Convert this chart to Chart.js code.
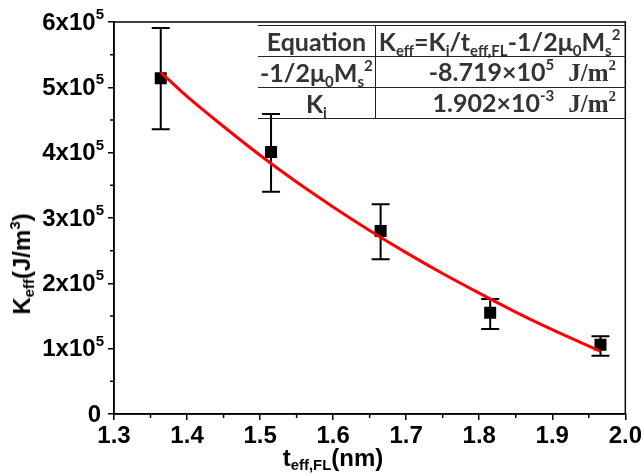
<!DOCTYPE html>
<html>
<head>
<meta charset="utf-8">
<script src="https://cdn.jsdelivr.net/npm/chart.js@4"></script>
<style>
  html, body { margin: 0; padding: 0; background: #fff; }
  #wrap { position: relative; width: 644px; height: 476px; }
  canvas { position: absolute; left: 0; top: 0; }
  .axt { position: absolute; font-family: "Liberation Sans", Arial, sans-serif; font-weight: bold;
         font-size: 24px; color: #000; white-space: nowrap; line-height: 1; }
  .axt sub { font-size: 62%; vertical-align: -0.3em; line-height: 0; }
  .axt sup { font-size: 62%; vertical-align: 0.7em; line-height: 0; }
  #ytitle { left: 22px; top: 264px; transform: translate(-50%, -50%) rotate(-90deg); }
  #xtitle { left: 333px; top: 458px; transform: translate(-50%, -50%); }
  #tbl { position: absolute; left: 258px; top: 25px; width: 368px; border-collapse: collapse;
         font-family: Lato, "Open Sans", sans-serif; font-weight: bold; font-size: 25px; color: #333; }
  #tbl td { border-top: 1.5px solid #222; border-bottom: 1.5px solid #222; padding: 0 2px; height: 30px;
            line-height: 1; white-space: nowrap; }
  #tbl td.c1 { width: 111px; border-right: 1.5px solid #222; text-align: center; }
  #tbl td.c2 { text-align: right; padding-right: 10px; }
  #tbl td.h2 { text-align: left; padding-left: 3px; }
  #tbl sub { font-size: 60%; vertical-align: -0.3em; line-height: 0; }
  #tbl sup { font-size: 60%; vertical-align: 0.75em; line-height: 0; }
  .ser { font-family: "Liberation Serif", "Times New Roman", serif; margin-left: 14px; }
</style>
</head>
<body>
<div id="wrap">
  <canvas id="chart" width="644" height="476"></canvas>
  <div class="axt" id="ytitle">K<sub>eff</sub>(J/m<sup>3</sup>)</div>
  <div class="axt" id="xtitle">t<sub>eff,FL</sub>(nm)</div>
  <table id="tbl">
    <tr><td class="c1">Equation</td><td class="h2">K<sub>eff</sub>=K<sub>i</sub>/t<sub>eff,FL</sub>-1/2&mu;<sub>0</sub>M<sub>s</sub><sup>2</sup></td></tr>
    <tr><td class="c1">-1/2&mu;<sub>0</sub>M<sub>s</sub><sup>2</sup></td><td class="c2">-8.719&times;10<sup>5</sup><span class="ser">J/m<sup>2</sup></span></td></tr>
    <tr><td class="c1">K<sub>i</sub></td><td class="c2">1.902&times;10<sup>-3</sup><span class="ser">J/m<sup>2</sup></span></td></tr>
  </table>
</div>
<script>
// measured points (t_eff,FL in nm, K_eff in J/m^3)
const thickness = [1.364, 1.515, 1.665, 1.815, 1.966];
const keff = [5.14e5, 4.01e5, 2.80e5, 1.55e5, 1.06e5];
const errHigh = [5.91e5, 4.59e5, 3.21e5, 1.76e5, 1.19e5];
const errLow = [4.36e5, 3.40e5, 2.37e5, 1.30e5, 0.89e5];

// red fit curve
const fitT = [1.364, 1.40, 1.45, 1.50, 1.55, 1.60, 1.65, 1.70, 1.75, 1.80, 1.85, 1.90, 1.966];
const fitK = [5.23e5, 4.86e5, 4.40e5, 3.96e5, 3.55e5, 3.17e5, 2.81e5, 2.47e5, 2.15e5, 1.85e5, 1.56e5, 1.29e5, 0.96e5];

const xMinor = [1.35, 1.45, 1.55, 1.65, 1.75, 1.85, 1.95];
const yMinor = [0.5e5, 1.5e5, 2.5e5, 3.5e5, 4.5e5, 5.5e5];

const fontFam = "'Liberation Sans', Arial, sans-serif";
const tickFont = { family: fontFam, weight: "bold", size: 24 };

const errorBars = {
  id: "errorBars",
  beforeDatasetsDraw(chart) {
    const { ctx, scales: { x, y } } = chart;
    ctx.save();
    ctx.strokeStyle = "#000";
    ctx.lineWidth = 2;
    thickness.forEach((t, i) => {
      const px = x.getPixelForValue(t);
      const top = y.getPixelForValue(errHigh[i]);
      const bot = y.getPixelForValue(errLow[i]);
      ctx.beginPath();
      ctx.moveTo(px, top); ctx.lineTo(px, bot);
      ctx.moveTo(px - 9, top); ctx.lineTo(px + 9, top);
      ctx.moveTo(px - 9, bot); ctx.lineTo(px + 9, bot);
      ctx.stroke();
    });
    ctx.restore();
  }
};

// y tick labels as "Nx10^5" with a real superscript
const yLabels = {
  id: "yLabels",
  afterDraw(chart) {
    const { ctx, chartArea: a, scales: { y } } = chart;
    ctx.save();
    ctx.fillStyle = "#000";
    y.ticks.forEach(t => {
      const py = y.getPixelForValue(t.value);
      const right = a.left - 10;
      if (t.value === 0) {
        ctx.font = "bold 24px " + fontFam;
        ctx.textAlign = "right";
        ctx.textBaseline = "middle";
        ctx.fillText("0", right - 3, py + 1);
        return;
      }
      ctx.font = "bold 15px " + fontFam;
      const supW = ctx.measureText("5").width;
      ctx.textAlign = "right";
      ctx.textBaseline = "alphabetic";
      ctx.fillText("5", right, py - 3);
      ctx.font = "bold 24px " + fontFam;
      ctx.textBaseline = "middle";
      ctx.fillText(Math.round(t.value / 1e5) + "x10", right - supW, py + 1);
    });
    ctx.restore();
  }
};

const frame = {
  id: "frame",
  afterDraw(chart) {
    const { ctx, chartArea: a, scales: { x, y } } = chart;
    ctx.save();
    ctx.strokeStyle = "#000";
    ctx.lineWidth = 1.5;
    ctx.strokeRect(a.left, a.top, a.right - a.left, a.bottom - a.top);
    // minor ticks
    ctx.beginPath();
    xMinor.forEach(v => {
      const px = x.getPixelForValue(v);
      ctx.moveTo(px, a.bottom); ctx.lineTo(px, a.bottom + 4);
    });
    yMinor.forEach(v => {
      const py = y.getPixelForValue(v);
      ctx.moveTo(a.left, py); ctx.lineTo(a.left - 4, py);
    });
    ctx.stroke();
    ctx.restore();
  }
};

new Chart(document.getElementById("chart"), {
  type: "scatter",
  data: {
    datasets: [
      {
        label: "fit",
        data: fitT.map((t, i) => ({ x: t, y: fitK[i] })),
        showLine: true,
        borderColor: "#ff0000",
        borderWidth: 3,
        pointRadius: 0,
        cubicInterpolationMode: "monotone",
        order: 0
      },
      {
        label: "data",
        data: thickness.map((t, i) => ({ x: t, y: keff[i] })),
        pointStyle: "rect",
        pointRadius: 8.5,
        backgroundColor: "#000",
        borderColor: "#000",
        borderWidth: 0,
        order: 1
      }
    ]
  },
  options: {
    responsive: false,
    animation: false,
    layout: { padding: { top: 22, right: 18, left: 0, bottom: 0 } },
    plugins: { legend: { display: false }, tooltip: { enabled: false } },
    scales: {
      x: {
        type: "linear", min: 1.3, max: 2.0,
        ticks: { stepSize: 0.1, color: "#000", font: tickFont, padding: 2, callback: v => v.toFixed(1) },
        grid: { drawOnChartArea: false, drawTicks: true, tickLength: 6, color: "#000", lineWidth: 1.5 },
        border: { color: "#000", width: 1.5 },
        afterFit: s => { s.height = 62; }
      },
      y: {
        type: "linear", min: 0, max: 6e5,
        ticks: { stepSize: 1e5, display: false },
        grid: { drawOnChartArea: false, drawTicks: true, tickLength: 6, color: "#000", lineWidth: 1.5 },
        border: { color: "#000", width: 1.5 },
        afterFit: s => { s.width = 114; }
      }
    }
  },
  plugins: [errorBars, yLabels, frame]
});
</script>
</body>
</html>
